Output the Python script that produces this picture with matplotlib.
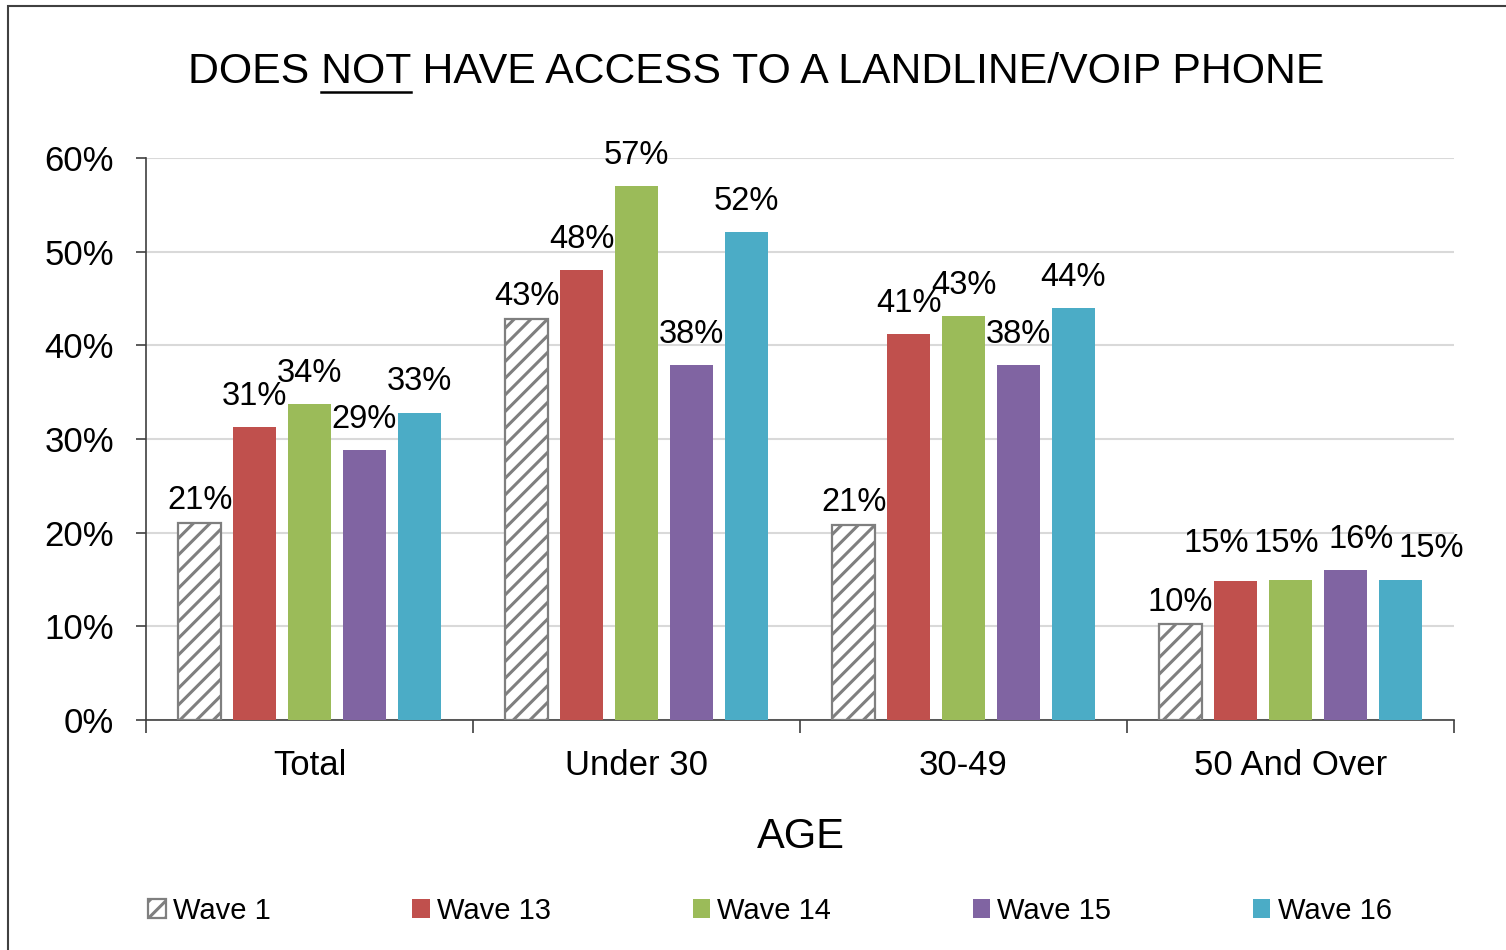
import matplotlib
matplotlib.use("Agg")
import matplotlib.pyplot as plt
import matplotlib.patches as mpatches
from matplotlib.lines import Line2D
import numpy as np

plt.rcParams['font.family'] = ['Liberation Sans', 'DejaVu Sans']
plt.rcParams['hatch.linewidth'] = 2.2

# data
categories = ["Total", "Under 30", "30-49", "50 And Over"]
waves = ["Wave 1", "Wave 13", "Wave 14", "Wave 15", "Wave 16"]
wave1 = [21.0, 42.8, 20.8, 10.2]
wave13 = [31.3, 48.0, 41.2, 14.8]
wave14 = [33.7, 57.0, 43.1, 15.0]
wave15 = [28.8, 37.9, 37.9, 16.0]
wave16 = [32.8, 52.1, 44.0, 15.0]
series = [wave1, wave13, wave14, wave15, wave16]
colors = ["white", "#C0504D", "#9BBB59", "#8064A2", "#4BACC6"]

# label nudges (points) for the crowded last group, like the original
nudge = {(1, 3): (-14, 5), (2, 3): (-3, 4), (3, 3): (11, 0), (4, 3): (22, 0)}

fig = plt.figure(figsize=(15.06, 9.5), dpi=100)
ax = fig.add_axes([146/1506, 1-720/950, (1454-146)/1506, (720-158)/950])

x = np.arange(len(categories))
step = 0.168
width = 0.131
for i, (vals, col) in enumerate(zip(series, colors)):
    pos = x + (i - 2) * step
    if i == 0:
        bars = ax.bar(pos, vals, width, color="white", edgecolor="#7F7F7F",
                      hatch="//", linewidth=1.6, label=waves[i], zorder=3)
        base = 5
    else:
        bars = ax.bar(pos, vals, width, color=col, label=waves[i], zorder=3)
        base = 11
    for j, (b, v) in enumerate(zip(bars, vals)):
        dx, dy = nudge.get((i, j), (0, 0))
        ax.annotate(f"{round(v):d}%", (b.get_x() + b.get_width()/2, v),
                    xytext=(dx, base + dy), textcoords="offset points",
                    ha="center", va="bottom", fontsize=23.5, zorder=4)

ax.set_ylim(0, 60)
ax.set_xlim(-0.5, len(categories) - 0.5)
ax.set_yticks(np.arange(0, 61, 10))
ax.set_yticklabels([f"{t}%" for t in range(0, 61, 10)], fontsize=25)
ax.yaxis.grid(True, color="#D9D9D9", linewidth=1.5, zorder=0)
ax.set_axisbelow(True)
ax.tick_params(axis="y", length=7, width=1.2, pad=16, color="#404040")

# category boundaries as major ticks, names as minor ticks
ax.set_xticks(np.arange(-0.5, len(categories), 1.0))
ax.set_xticklabels([])
ax.set_xticks(x, minor=True)
ax.set_xticklabels(categories, minor=True, fontsize=25)
ax.tick_params(axis="x", which="major", length=9, width=1.2, color="#404040")
ax.tick_params(axis="x", which="minor", length=0, pad=21)

for s in ["top", "right"]:
    ax.spines[s].set_visible(False)
ax.spines["left"].set_color("#404040")
ax.spines["bottom"].set_color("#404040")
ax.spines["left"].set_linewidth(1.2)
ax.spines["bottom"].set_linewidth(1.2)

fig.text(801/1506, 1-837/950, "AGE", ha="center", va="center", fontsize=30)

# title, with NOT underlined
tsize = 30.8
tx, ty = 756/1506, 1-72/950
title = fig.text(tx, ty, "DOES NOT HAVE ACCESS TO A LANDLINE/VOIP PHONE",
                 ha="center", va="center", fontsize=tsize)
fig.canvas.draw()
r = fig.canvas.get_renderer()
tb = title.get_window_extent(r)
t1 = fig.text(0, 0, "DOES NOT", fontsize=tsize)
t2 = fig.text(0, 0, "NOT", fontsize=tsize)
w1 = t1.get_window_extent(r).width
w2 = t2.get_window_extent(r).width
t1.remove()
t2.remove()
x_end = tb.x0 + w1
x_start = x_end - w2
uy = 1 - 92/950
fig.add_artist(Line2D([x_start/1506, x_end/1506], [uy, uy], color="black",
                      linewidth=1.8, transform=fig.transFigure))

# chart frame
fig.add_artist(mpatches.Rectangle((8/1506, -0.1), 1.2, 1.1 - 6/950,
                                  transform=fig.transFigure, fill=False,
                                  edgecolor="#404040", linewidth=1.5))

handles, labels = ax.get_legend_handles_labels()
fig.legend(handles, labels, loc="center", bbox_to_anchor=(770/1506, 1-911/950),
           ncol=5, frameon=False, fontsize=21, handlelength=0.6,
           handleheight=0.6, handletextpad=0.25, columnspacing=4.85)

fig.savefig("out.png", dpi=100)
